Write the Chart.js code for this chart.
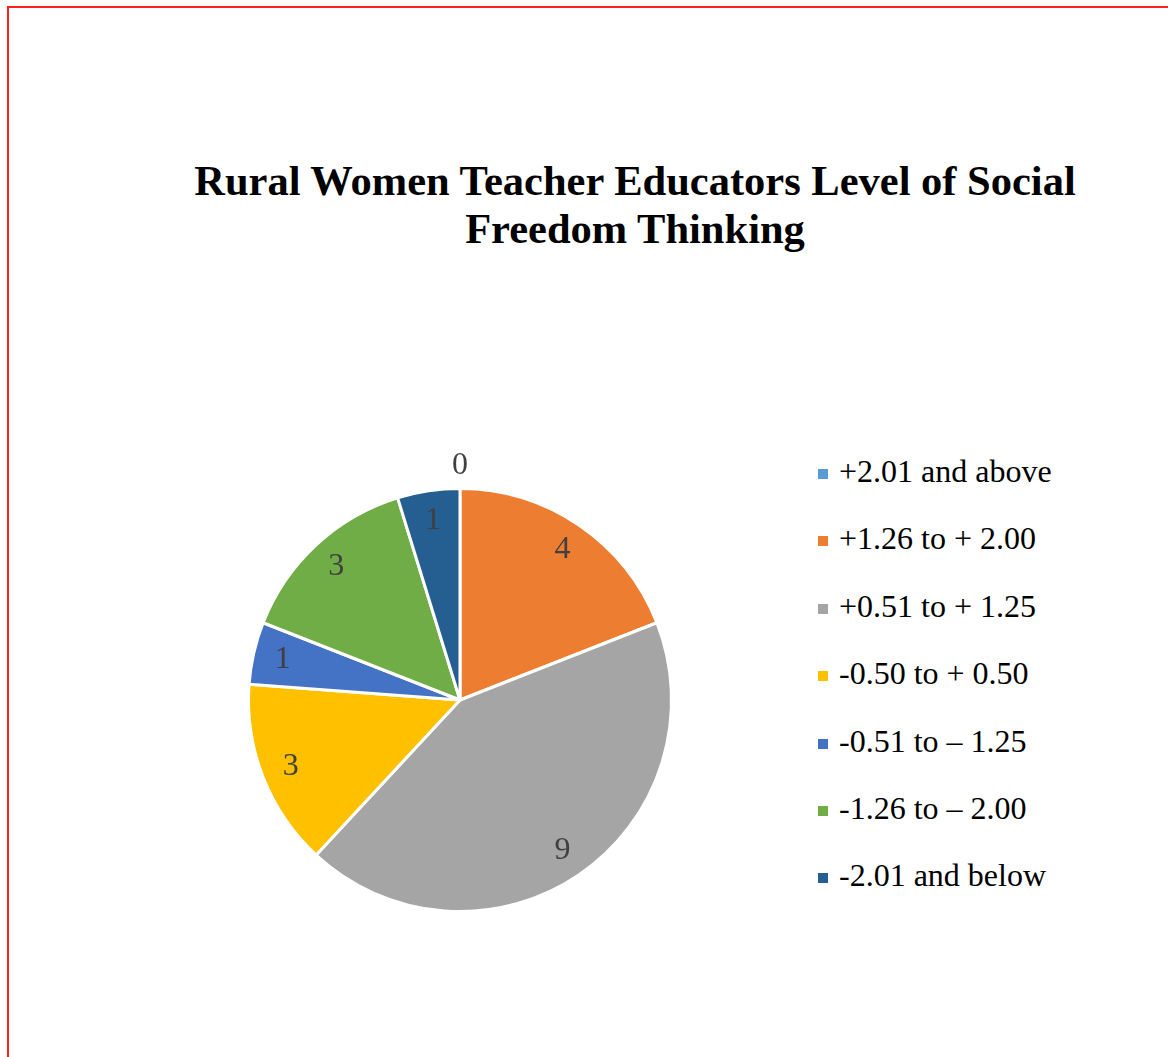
<!DOCTYPE html>
<html>
<head>
<meta charset="utf-8">
<script src="https://cdn.jsdelivr.net/npm/chart.js@4.4.0/dist/chart.umd.min.js"></script>
<style>
  body { margin: 0; background: #fff; width: 1168px; height: 1057px; overflow: hidden; position: relative; }
  #frame { position: absolute; left: 7px; top: 6px; width: 1200px; height: 1100px;
           border-top: 2px solid #ff2020; border-left: 2px solid #ff2020; }
  #title { position: absolute; left: 85px; width: 1100px; top: 157px; text-align: center;
           font-family: "Liberation Serif", serif; font-weight: bold;
           font-size: 42.5px; line-height: 48px; color: #000; }
  #wrap { position: absolute; left: 200px; top: 440px; width: 520px; height: 520px; }
  #legend { position: absolute; left: 818px; top: 449px; font-family: "Liberation Serif", serif;
            font-size: 32px; color: #000; }
  #legend div { height: 67.4px; line-height: 44px; white-space: nowrap; }
  #legend span { display: inline-block; width: 10px; height: 10px; margin-right: 11px; vertical-align: 3px; }
</style>
</head>
<body>
<div id="frame"></div>
<div id="title">Rural Women Teacher Educators Level of Social<br>Freedom Thinking</div>
<div id="wrap"><canvas id="chart"></canvas></div>
<div id="legend"></div>

<script>
const categories = ["+2.01 and above", "+1.26 to + 2.00", "+0.51 to + 1.25", "-0.50 to + 0.50",
                    "-0.51 to \u2013 1.25", "-1.26 to \u2013 2.00", "-2.01 and below"];
const counts = [0, 4, 9, 3, 1, 3, 1];
const colors = ["#5B9BD5", "#ED7D31", "#A5A5A5", "#FFC000", "#4472C4", "#70AD47", "#255E91"];

// value labels inside each slice, zero slices get pushed outside the rim
const sliceLabels = {
    id: 'sliceLabels',
    afterDatasetsDraw(chart) {
        const ctx = chart.ctx;
        const meta = chart.getDatasetMeta(0);
        ctx.save();
        ctx.font = '32px "Liberation Serif", serif';
        ctx.fillStyle = '#404040';
        ctx.textAlign = 'center';
        ctx.textBaseline = 'middle';
        meta.data.forEach((arc, i) => {
            const p = arc.getProps(['x', 'y', 'startAngle', 'endAngle', 'outerRadius'], true);
            const mid = (p.startAngle + p.endAngle) / 2;
            const r = counts[i] === 0 ? p.outerRadius * 1.11 : p.outerRadius * 0.86;
            ctx.fillText(String(counts[i]), p.x + Math.cos(mid) * r, p.y + Math.sin(mid) * r);
        });
        ctx.restore();
    }
};

new Chart(document.getElementById("chart"), {
    type: 'pie',
    data: {
        labels: categories,
        datasets: [{
            data: counts,
            backgroundColor: colors,
            borderColor: '#ffffff',
            borderWidth: 3
        }]
    },
    options: {
        responsive: true,
        maintainAspectRatio: false,
        animation: false,
        layout: { padding: 47 },
        plugins: {
            legend: { display: false },
            tooltip: { enabled: false }
        }
    },
    plugins: [sliceLabels]
});

const legend = document.getElementById("legend");
categories.forEach((name, i) => {
    const row = document.createElement("div");
    row.innerHTML = '<span style="background:' + colors[i] + '"></span>' + name;
    legend.appendChild(row);
});
</script>
</body>
</html>
